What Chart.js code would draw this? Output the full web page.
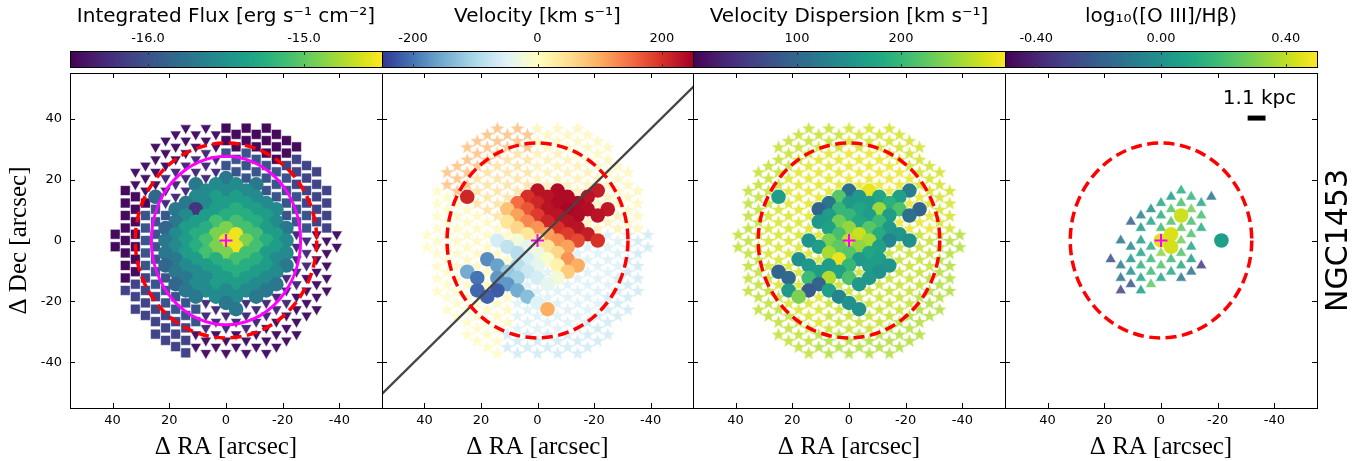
<!DOCTYPE html>
<html><head><meta charset="utf-8">
<script src="https://cdn.jsdelivr.net/npm/chart.js@4.4.1/dist/chart.umd.min.js"></script>
<style>
html,body{margin:0;padding:0;background:#fff;}
#wrap{position:relative;width:1366px;height:461px;overflow:hidden;background:#fff;}
#wrap canvas{position:absolute;top:0;}
</style></head><body><div id="wrap"></div>
<script>
// ===================== DATA =====================
const raTicks = [40, 20, 0, -20, -40];
const decTicks = [40, 20, 0, -20, -40];
const raRange = [-55, 55];
const decRange = [-55, 55];
const centerRA = [0];
const centerDec = [0];

// fibre grid (arcsec): column c -> RA = firstColRA - c*fiberPitchRA ; row r -> Dec = (firstRow - r)*fiberPitchDec
const fiberPitchRA = 3.55;
const fiberPitchDec = 2.05;
const firstColRA = 39.05;
const firstRow = 18;

// Panel 1 : integrated flux. T/t = down triangles, S/Q/s = squares, digits = individual fibres (circles)
const fluxRows = [
".......T.T.S.S.S.......",
"......T.T.T.S.S.S......",
".....T.T.T.S.S.S.S.....",
"....T.T.T.T.S.S.S.S....",
".....T.T.t.s.s.S.S.....",
"....T.T.t.t.s.s.S.Q....",
"...T.T.t.t.s.s.s.Q.Q...",
"..T.T.t.t.t.s.s.s.Q.Q..",
"...T.t.t.t.3.s.s.s.Q...",
"..T.T.t.3.4.4.3.s.Q.Q..",
".S.T.t.t.4.4.4.s.s.Q.Q.",
"..S.2.t.4.5.5.4.s.s.Q..",
".S.S.t.3.4.5.5.4.s.Q.Q.",
"..S.s.3.0.5.6.5.4.s.Q..",
".S.s.s.4.5.6.6.5.s.s.Q.",
"..S.s.3.5.7.7.6.4.s.Q..",
".S.s.2.5.6.8.7.5.3.s.Q.",
"S.S.s.4.6.8.9.7.5.t.T.T",
".S.s.3.5.7.9.8.6.4.t.T.",
"S.S.s.4.6.8.9.7.5.t.T.T",
".S.s.3.5.7.8.7.5.4.t.T.",
"..S.s.3.5.6.7.6.4.t.T..",
".S.s.2.4.5.6.6.5.3.t.T.",
"..S.s.3.4.5.6.5.4.t.T..",
".S.Q.s.3.4.5.5.4.t.T.T.",
"..Q.s.2.4.5.5.4.3.t.T..",
".Q.Q.s.3.4.4.4.3.t.T.T.",
"..Q.Q.s.3.4.4.3.t.T.T..",
"...Q.s.s.t.3.t.t.t.T...",
"..Q.Q.s.s.t.3.t.t.T.T..",
"...Q.Q.s.t.t.t.t.T.T...",
"....Q.Q.s.t.t.t.T.T....",
".....Q.Q.t.t.t.T.T.....",
"....Q.Q.T.T.T.T.T.T....",
".....Q.Q.T.T.T.T.T.....",
"......Q.T.T.T.T.T......",
".......Q.T.T.T.T......."
];
const fluxBinValues = {S: -16.45, Q: -16.1, s: -15.98, T: -16.4, t: -16.25};
const fluxFibreLevels = [-16.2, -16.05, -15.85, -15.7, -15.55, -15.4, -15.25, -15.1, -14.9, -14.55];

// Panels 2 & 3 : binned fibres (stars, letter = bin) and single fibres (@, circles)
const kinRows = [
".......B.B.A.A.A.......",
"......B.B.B.A.A.A......",
".....B.B.B.A.A.A.A.....",
"....B.B.B.B.A.A.A.A....",
".....B.B.b.a.a.A.A.....",
"....B.B.b.b.a.a.A.A....",
"...B.B.b.b.a.a.a.A.A...",
"..B.B.b.b.b.a.a.a.A.A..",
"...B.b.b.b.a.a.a.a.A...",
"..B.B.b.b.b.a.a.a.A.A..",
".C.B.b.b.b.@.@.a.@.A.A.",
"..C.@.b.b.@.@.@.@.a.A..",
".C.C.b.b.@.@.@.@.a.A.A.",
"..C.c.b.@.@.@.@.@.@.A..",
".C.c.c.b.@.@.@.@.@.a.A.",
"..C.c.c.@.@.@.@.a.a.A..",
".C.c.c.c.@.@.@.@.a.a.A.",
"C.C.c.c.c.@.@.@.@.d.D.D",
".C.c.c.@.@.@.@.@.@.d.D.",
"C.C.c.c.@.@.@.@.d.d.D.D",
".C.c.c.c.@.@.@.d.d.d.D.",
"..C.c.@.c.@.@.@.d.d.D..",
".C.c.c.@.@.@.@.@.d.d.D.",
"..C.@.c.@.@.d.@.d.d.D..",
".C.C.@.@.@.@.@.d.d.D.D.",
"..C.c.c.@.d.@.d.d.d.D..",
".C.C.@.@.@.d.d.d.d.D.D.",
"..C.C.@.c.@.d.d.d.D.D..",
"...C.c.c.d.@.d.d.d.D...",
"..C.C.c.c.d.@.d.d.D.D..",
"...C.C.c.d.d.d.d.D.D...",
"....C.C.c.d.d.d.D.D....",
".....C.C.d.d.d.D.D.....",
"....C.C.D.D.D.D.D.D....",
".....C.C.D.D.D.D.D.....",
"......C.D.D.D.D.D......",
".......C.D.D.D.D......."
];
const velBinValues = {A: 20, a: 30, B: 95, b: 55, C: 10, c: 15, D: -75, d: -60};
const velFibres = [
  230, 240, 220,
  210, 200, 230, 240, 230,
  150, 210, 240, 240,
  80, 170, 230, 245, 235, 225,
  110, 190, 230, 240, 230,
  40, 130, 210, 230,
  60, 120, 200, 230,
  40, 110, 190, 220,
  -60, -20, 30, 120, 180, 200,
  -80, -40, 40, 110,
  -90, -30, 60,
  -180, -60, -10, 120,
  -160, -90, -40, 20, 100,
  -150, -120, -70, 70,
  -200, -170, -110, -60, -20,
  -170, -40,
  -210, -220, -150,
  -215, -130,
  -50,
  100
];
const dispBinValues = {A: 278, a: 290, B: 272, b: 285, C: 268, c: 280, D: 262, d: 272};
const dispFibres = [
  110, 290, 125,
  165, 220, 160, 175, 170,
  115, 160, 165, 190,
  95, 200, 175, 255, 215, 95,
  165, 200, 165, 165, 110,
  160, 235, 180, 205,
  170, 250, 220, 160,
  210, 275, 185, 155,
  155, 240, 270, 260, 135, 150,
  165, 225, 250, 170,
  260, 220, 175,
  150, 290, 160, 165,
  160, 165, 200, 165, 155,
  95, 165, 170, 150,
  100, 205, 265, 215, 160,
  95, 160,
  160, 85, 170,
  240, 135,
  150,
  150
];

// Panel 4 : [O III]/Hbeta, ^ = binned (triangles), @ = single fibres (circles)
const o3Rows = [
".......................",
".......................",
".......................",
".......................",
".......................",
".......................",
".......................",
".......................",
".......................",
".......................",
".............^.........",
"............^.^.^......",
"...........^.^.^.......",
"..........^.^.^........",
".........^.^.@.^.......",
"........^.^.^.^........",
".........^.^.^.^.......",
"............@.^........",
".......^.^.@.^...@.....",
"........^.^.@.^........",
".........^.^.^.........",
"......^.^.^.^.^........",
".......^.^.^.^.^.......",
"........^.^.^.^........",
".......^.^.^.^.........",
"........^.^............",
".......^.^.............",
".......................",
".......................",
".......................",
".......................",
".......................",
".......................",
".......................",
".......................",
".......................",
"......................."
];
const o3Triangles = [
  0.12,
  0.05, 0.15, -0.12,
  0.08, 0.20, 0.10,
  0.00, 0.22, 0.28,
  -0.06, 0.12, 0.20,
  -0.20, 0.08, 0.22, 0.20,
  0.02, 0.18, 0.25, 0.12,
  0.22,
  -0.12, 0.06, 0.28,
  -0.04, 0.12, 0.08,
  0.08, 0.32, 0.22,
  -0.26, 0.02, 0.18, 0.18, 0.06,
  -0.08, 0.15, 0.22, 0.10, -0.32,
  0.00, 0.18, 0.10, -0.12,
  -0.12, 0.08, 0.08, -0.10,
  -0.24, 0.25,
  -0.30, 0.06
];
const o3Fibres = [0.42, 0.44, 0.45, 0.06, 0.43];

// colour bars
const cbTitles = ['Integrated Flux [erg s\u207B\u00B9 cm\u207B\u00B2]', 'Velocity [km s\u207B\u00B9]', 'Velocity Dispersion [km s\u207B\u00B9]', 'log\u2081\u2080([O III]/H\u03B2)'];
const fluxRange = [-16.5, -14.5];
const velRange = [-250, 250];
const dispRange = [0, 300];
const o3Range = [-0.5, 0.5];
const fluxCbTicks = [-16, -15];
const fluxCbLabels = ['-16.0', '-15.0'];
const velCbTicks = [-200, 0, 200];
const velCbLabels = ['-200', '0', '200'];
const dispCbTicks = [100, 200];
const dispCbLabels = ['100', '200'];
const o3CbTicks = [-0.4, 0, 0.4];
const o3CbLabels = ['-0.40', '0.00', '0.40'];

// overlays
const apertureRadius = [32];
const fluxEllipseAxes = [26.3, 27.7];
const kinematicPA = [312.5];
const scaleBarLabel = ['1.1 kpc'];
const scaleBarLength = [6.3];
const scaleBarRA = [-33.7];
const scaleBarDec = [40.2];
const scaleBarTextDec = [46.5];
const galaxyName = ['NGC1453'];
const raLabel = '\u0394 RA [arcsec]';
const decLabel = '\u0394 Dec [arcsec]';

// ===================== LAYOUT / STYLE =====================
const H = 461, PLOT_TOP = 73, PLOT_BOTTOM = 408, CB_TOP = 51, CB_BOTTOM = 68;
const PANEL_LEFT = [0, 382, 693, 1005];
const CANVAS_W = [383, 312, 313, 361];
const PAD_RIGHT = [1, 1, 1, 49];
const TICK_FONT = {family: 'DejaVu Sans', size: 13};

function hexToRgb(h) { return [parseInt(h.slice(1,3),16), parseInt(h.slice(3,5),16), parseInt(h.slice(5,7),16)]; }
function makeCmap(hexes) {
  const st = hexes.map(hexToRgb);
  return function(t, a) {
    if (a === undefined) a = 1;
    t = Math.max(0, Math.min(1, t));
    const p = t * (st.length - 1);
    const i = Math.min(st.length - 2, Math.floor(p));
    const f = p - i;
    const c = [0,1,2].map(k => Math.round(st[i][k] + (st[i+1][k] - st[i][k]) * f));
    return a >= 1 ? 'rgb(' + c.join(',') + ')' : 'rgba(' + c.join(',') + ',' + a + ')';
  };
}
const viridis = makeCmap(['#440154','#48186a','#472d7b','#424086','#3b528b','#33638d','#2c728e','#26828e','#21918c','#1fa088','#28ae80','#3fbc73','#5ec962','#84d44b','#addc30','#d8e219','#fde725']);
const rdylbuR = makeCmap(['#313695','#4575b4','#74add1','#abd9e9','#e0f3f8','#ffffbf','#fee090','#fdae61','#f46d43','#d73027','#a50026']);

function parseRows(rows) {
  const pts = [];
  rows.forEach((row, r) => {
    const dec = (firstRow - r) * fiberPitchDec;
    for (let c = 0; c < row.length; c++) {
      const ch = row[c];
      if (ch === '.') continue;
      pts.push({x: firstColRA - c * fiberPitchRA, y: dec, code: ch});
    }
  });
  return pts;
}

const starCache = {};
function starImg(color) {
  if (starCache[color]) return starCache[color];
  const R = 7.2, size = 17;
  const cv = document.createElement('canvas');
  cv.width = size; cv.height = size;
  const g = cv.getContext('2d');
  g.beginPath();
  for (let i = 0; i < 10; i++) {
    const rr = i % 2 ? R * 0.42 : R;
    const ang = -Math.PI / 2 + i * Math.PI / 5;
    g.lineTo(size / 2 + rr * Math.cos(ang), size / 2 + 0.6 + rr * Math.sin(ang));
  }
  g.closePath();
  g.fillStyle = color;
  g.fill();
  starCache[color] = cv;
  return cv;
}

function norm(range) { return v => (v - range[0]) / (range[1] - range[0]); }

// ===================== DATASETS =====================
const fluxPts = parseRows(fluxRows);
const nF = norm(fluxRange);
fluxPts.forEach(p => { p.v = /[0-9]/.test(p.code) ? fluxFibreLevels[+p.code] : fluxBinValues[p.code]; });
const crossDs = () => ({data: centerRA.map((x, i) => ({x: x, y: centerDec[i]})), pointStyle: 'cross', pointRadius: 6.5,
  pointBorderColor: '#ff00ff', pointBorderWidth: 2, order: 0});

const panel1 = [
  crossDs(),
  {data: fluxPts.filter(p => /[0-9]/.test(p.code)), pointStyle: 'circle', pointRadius: 7.3,
   pointBackgroundColor: c => viridis(nF(c.raw.v)), pointBorderWidth: 0, order: 1},
  {data: fluxPts.filter(p => /[SQs]/.test(p.code)), pointStyle: 'rect', pointRadius: 7,
   pointBackgroundColor: c => viridis(nF(c.raw.v)), pointBorderColor: 'rgba(255,255,255,0.55)', pointBorderWidth: 1, order: 2},
  {data: fluxPts.filter(p => /[Tt]/.test(p.code)), pointStyle: 'triangle', pointRotation: 180, pointRadius: 6.5,
   pointBackgroundColor: c => viridis(nF(c.raw.v)), pointBorderColor: 'rgba(255,255,255,0.55)', pointBorderWidth: 1, order: 2}
];

function kinPanel(binValues, fibreValues, cmap, range, starAlpha) {
  const pts = parseRows(kinRows);
  let k = 0;
  pts.forEach(p => { p.v = p.code === '@' ? fibreValues[k++] : binValues[p.code]; });
  const n = norm(range);
  return [
    crossDs(),
    {data: pts.filter(p => p.code === '@'), pointStyle: 'circle', pointRadius: 7.3,
     pointBackgroundColor: c => cmap(n(c.raw.v)), pointBorderWidth: 0, order: 1},
    {data: pts.filter(p => p.code !== '@'), pointStyle: c => starImg(cmap(n(c.raw.v), starAlpha)), pointRadius: 7,
     pointBackgroundColor: c => cmap(n(c.raw.v)), pointBorderWidth: 0, order: 2}
  ];
}
const panel2 = kinPanel(velBinValues, velFibres, rdylbuR, velRange, 0.7);
const panel3 = kinPanel(dispBinValues, dispFibres, viridis, dispRange, 0.8);

const o3Pts = parseRows(o3Rows);
(function(){ let a = 0, b = 0; o3Pts.forEach(p => { p.v = p.code === '@' ? o3Fibres[b++] : o3Triangles[a++]; }); })();
const nO = norm(o3Range);
const panel4 = [
  crossDs(),
  {data: o3Pts.filter(p => p.code === '@'), pointStyle: 'circle', pointRadius: 7.3,
   pointBackgroundColor: c => viridis(nO(c.raw.v)), pointBorderWidth: 0, order: 1},
  {data: o3Pts.filter(p => p.code === '^'), pointStyle: 'triangle', pointRadius: 6.5,
   pointBackgroundColor: c => viridis(nO(c.raw.v), 0.85), pointBorderColor: 'rgba(255,255,255,0.6)', pointBorderWidth: 1, order: 2}
];

// ===================== PLUGIN =====================
const decoPlugin = {
  id: 'deco',
  afterDatasetsDraw(chart, args, o) {
    const {ctx, chartArea: a} = chart;
    const x = chart.scales.x, y = chart.scales.y;
    const px = v => x.getPixelForValue(v), py = v => y.getPixelForValue(v);
    const cx = px(centerRA[0]), cy = py(centerDec[0]);
    ctx.save();
    ctx.beginPath(); ctx.rect(a.left, a.top, a.right - a.left, a.bottom - a.top); ctx.clip();
    if (o.pa != null) {
      const th = o.pa * Math.PI / 180, L = 300;
      const dE = Math.sin(th), dN = Math.cos(th);
      ctx.strokeStyle = '#454545'; ctx.lineWidth = 2.3;
      ctx.beginPath();
      ctx.moveTo(px(centerRA[0] - dE * L), py(centerDec[0] - dN * L));
      ctx.lineTo(px(centerRA[0] + dE * L), py(centerDec[0] + dN * L));
      ctx.stroke();
    }
    if (o.ellipse) {
      ctx.strokeStyle = '#ff00ff'; ctx.lineWidth = 3;
      ctx.beginPath();
      ctx.ellipse(cx, cy, Math.abs(px(o.ellipse[0]) - px(0)), Math.abs(py(o.ellipse[1]) - py(0)), 0, 0, Math.PI * 2);
      ctx.stroke();
    }
    ctx.strokeStyle = '#ff0000'; ctx.lineWidth = 3.5; ctx.setLineDash([11, 5.5]);
    ctx.beginPath();
    ctx.ellipse(cx, cy, Math.abs(px(apertureRadius[0]) - px(0)), Math.abs(py(apertureRadius[0]) - py(0)), 0, 0, Math.PI * 2);
    ctx.stroke();
    ctx.setLineDash([]);
    ctx.restore();
  },
  afterDraw(chart, args, o) {
    const {ctx, chartArea: a} = chart;
    const x = chart.scales.x, y = chart.scales.y, cb = chart.scales.cb;
    ctx.save();
    // colour bar
    const n = norm(o.range);
    for (let p = Math.round(a.left); p <= Math.round(a.right); p++) {
      ctx.fillStyle = o.cmap(n(cb.getValueForPixel(p + 0.5)));
      ctx.fillRect(p, CB_TOP, 1, CB_BOTTOM - CB_TOP);
    }
    ctx.strokeStyle = '#000'; ctx.lineWidth = 1;
    ctx.strokeRect(Math.round(a.left) + 0.5, CB_TOP + 0.5, Math.round(a.right - a.left), CB_BOTTOM - CB_TOP - 1);
    ctx.strokeStyle = '#333';
    o.cbTicks.forEach(v => {
      const p = Math.round(cb.getPixelForValue(v)) + 0.5;
      ctx.beginPath(); ctx.moveTo(p, CB_TOP); ctx.lineTo(p, CB_TOP + 4); ctx.moveTo(p, CB_BOTTOM); ctx.lineTo(p, CB_BOTTOM - 4); ctx.stroke();
    });
    // frame
    ctx.strokeStyle = '#000'; ctx.lineWidth = 1;
    ctx.strokeRect(Math.round(a.left) + 0.5, Math.round(a.top) + 0.5, Math.round(a.right - a.left), Math.round(a.bottom - a.top));
    ctx.beginPath();
    raTicks.forEach(v => {
      const p = Math.round(x.getPixelForValue(v)) + 0.5;
      ctx.moveTo(p, a.top); ctx.lineTo(p, a.top + 5);
      ctx.moveTo(p, a.bottom); ctx.lineTo(p, a.bottom - 5);
    });
    decTicks.forEach(v => {
      const p = Math.round(y.getPixelForValue(v)) + 0.5;
      ctx.moveTo(a.left, p); ctx.lineTo(a.left + 5, p);
      ctx.moveTo(a.right, p); ctx.lineTo(a.right - 5, p);
    });
    ctx.stroke();
    // scale bar
    if (o.scaleBar) {
      const x0 = x.getPixelForValue(scaleBarRA[0] + scaleBarLength[0] / 2);
      const x1 = x.getPixelForValue(scaleBarRA[0] - scaleBarLength[0] / 2);
      const yb = y.getPixelForValue(scaleBarDec[0]);
      ctx.fillStyle = '#000';
      ctx.fillRect(x0, yb - 2.5, x1 - x0, 5);
      ctx.font = '20px "DejaVu Sans"'; ctx.textAlign = 'center'; ctx.textBaseline = 'middle';
      ctx.fillText(scaleBarLabel[0], x.getPixelForValue(scaleBarRA[0]) + 3, y.getPixelForValue(scaleBarTextDec[0]));
    }
    if (o.sideLabel) {
      ctx.translate(a.right + 22, (a.top + a.bottom) / 2);
      ctx.rotate(-Math.PI / 2);
      ctx.fillStyle = '#000'; ctx.font = '30px "DejaVu Sans"'; ctx.textAlign = 'center'; ctx.textBaseline = 'middle';
      ctx.fillText(o.sideLabel, 0, 0);
    }
    ctx.restore();
  }
};

// ===================== CHARTS =====================
const panels = [
  {ds: panel1, cmap: viridis, range: fluxRange, cbTicks: fluxCbTicks, cbLabels: fluxCbLabels, title: cbTitles[0], ellipse: fluxEllipseAxes},
  {ds: panel2, cmap: rdylbuR, range: velRange, cbTicks: velCbTicks, cbLabels: velCbLabels, title: cbTitles[1], pa: kinematicPA[0]},
  {ds: panel3, cmap: viridis, range: dispRange, cbTicks: dispCbTicks, cbLabels: dispCbLabels, title: cbTitles[2]},
  {ds: panel4, cmap: viridis, range: o3Range, cbTicks: o3CbTicks, cbLabels: o3CbLabels, title: cbTitles[3], scaleBar: true, sideLabel: galaxyName[0]}
];

function noPadH(s) { s.paddingLeft = 0; s.paddingRight = 0; }

const wrap = document.getElementById('wrap');
panels.forEach((P, i) => {
  const cv = document.createElement('canvas');
  cv.width = CANVAS_W[i]; cv.height = H;
  cv.style.left = PANEL_LEFT[i] + 'px';
  cv.style.width = CANVAS_W[i] + 'px'; cv.style.height = H + 'px';
  wrap.appendChild(cv);
  new Chart(cv, {
    type: 'scatter',
    data: {datasets: P.ds},
    plugins: [decoPlugin],
    options: {
      responsive: false, animation: false, events: [],
      layout: {autoPadding: false, padding: {left: 0, right: PAD_RIGHT[i], top: 0, bottom: 0}},
      plugins: {
        legend: {display: false}, tooltip: {enabled: false},
        deco: {cmap: P.cmap, range: P.range, cbTicks: P.cbTicks, ellipse: P.ellipse, pa: P.pa, scaleBar: P.scaleBar, sideLabel: P.sideLabel}
      },
      scales: {
        x: {
          type: 'linear', position: 'bottom', min: raRange[0], max: raRange[1], reverse: true,
          afterBuildTicks: s => { s.ticks = raTicks.map(v => ({value: v})); },
          afterFit: s => { s.height = H - PLOT_BOTTOM; noPadH(s); },
          grid: {display: false, drawTicks: false}, border: {display: false},
          ticks: {padding: 5, color: '#000', font: TICK_FONT, autoSkip: false, maxRotation: 0, minRotation: 0, callback: v => String(v)},
          title: {display: true, text: raLabel, color: '#000', font: {family: 'Liberation Serif', size: 25, lineHeight: 1}, padding: {top: 0, bottom: 1}}
        },
        y: {
          type: 'linear', position: 'left', min: decRange[0], max: decRange[1], display: i === 0,
          afterBuildTicks: s => { s.ticks = decTicks.map(v => ({value: v})); },
          afterFit: s => { s.width = i === 0 ? 70 : 0; s.paddingTop = 0; s.paddingBottom = 0; },
          grid: {display: false, drawTicks: false}, border: {display: false},
          ticks: {padding: 8, color: '#000', font: TICK_FONT, autoSkip: false, callback: v => String(v)},
          title: {display: true, text: decLabel, color: '#000', font: {family: 'Liberation Serif', size: 25, lineHeight: 1}, padding: {top: 7, bottom: 0}}
        },
        cb: {
          axis: 'x', type: 'linear', position: 'top', min: P.range[0], max: P.range[1],
          afterBuildTicks: s => { s.ticks = P.cbTicks.map(v => ({value: v})); },
          afterFit: s => { s.height = PLOT_TOP; noPadH(s); },
          grid: {display: false, drawTicks: false}, border: {display: false},
          ticks: {padding: 27, color: '#000', font: TICK_FONT, autoSkip: false, maxRotation: 0, minRotation: 0, callback: (v, idx) => P.cbLabels[idx]},
          title: {display: true, text: P.title, color: '#000', font: {family: 'DejaVu Sans', size: 20, lineHeight: 1.2}, padding: {top: 5, bottom: 0}}
        }
      }
    }
  });
});
</script>
</body></html>
